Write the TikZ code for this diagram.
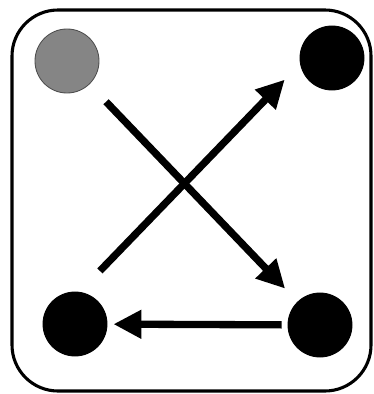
\documentclass[tikz,border=0pt]{standalone}
\usepackage{xcolor}
\usepackage{tikz}
\usetikzlibrary{arrows.meta}
\definecolor{dotgray}{HTML}{858585}

\tikzset{
  dot/.style={circle, inner sep=0pt, minimum size=1.6cm, fill=black, draw=black, line width=0.6pt},
  flow/.style={-{Triangle[length=7mm, width=6.8mm]}, line width=5.2pt, color=black}
}

\begin{document}
\begin{tikzpicture}[x=0.025cm, y=-0.025cm]

  \useasboundingbox (0,0) rectangle (374,394);

  % ══ FRAME ════════════════════════════════════════════════════
  \draw[line width=2.2pt, rounded corners=1.15cm] (12,10) rectangle (371,391);

  % ══ DOTS ═════════════════════════════════════════════════════
  \node[dot, fill=dotgray, draw=black!70] (tl) at (67, 61) {};
  \node[dot] (tr) at (332, 58) {};
  \node[dot] (bl) at (75, 324) {};
  \node[dot] (br) at (320, 325) {};

  % ══ ARROWS ═══════════════════════════════════════════════════
  \draw[flow, shorten <=0.6cm, shorten >=0.45cm] (tl) -- (br);
  \draw[flow, shorten <=0.575cm, shorten >=0.4cm,
        transform canvas={xshift=-0.34cm, yshift=0.33cm}] (bl) -- (tr);
  \draw[flow, shorten <=0.15cm, shorten >=0.15cm] (br) -- (bl);

\end{tikzpicture}
\end{document}
